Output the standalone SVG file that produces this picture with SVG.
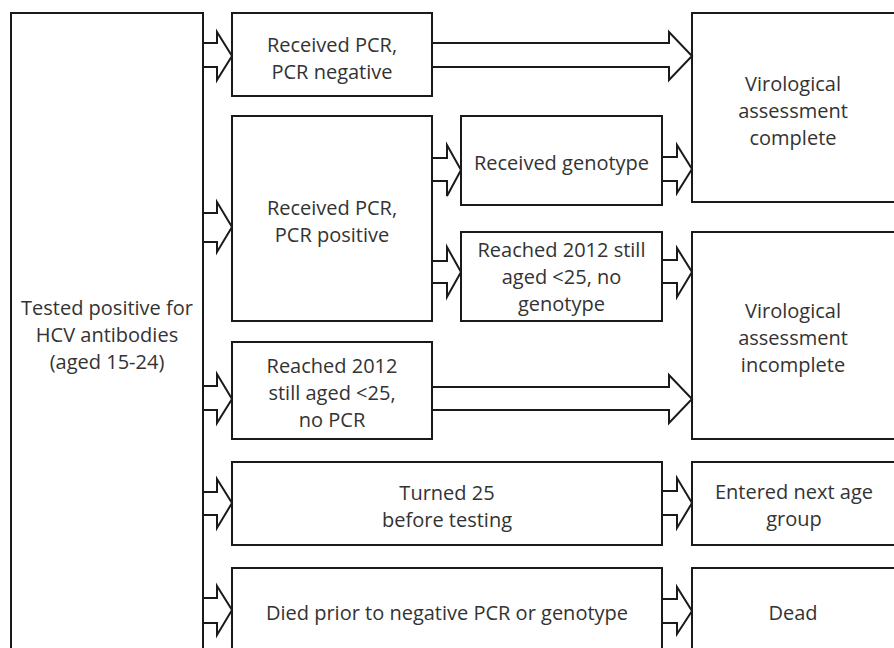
<svg xmlns="http://www.w3.org/2000/svg" width="894" height="648" viewBox="0 0 894 648">
<style>
.box{fill:#fff;stroke:#1a1a1a;stroke-width:2}
.arr{fill:#fff;stroke:#1a1a1a;stroke-width:2;stroke-linejoin:miter}
text{font-family:"Open Sans","Liberation Sans",sans-serif;font-size:20px;fill:#333;text-anchor:middle}
</style>
<rect width="894" height="648" fill="#fff"/>
<g id="n-tested">
<rect class="box" x="11" y="13" width="192" height="660"/>
<text x="107" y="315">Tested positive for</text>
<text x="107" y="342">HCV antibodies</text>
<text x="107" y="369">(aged 15-24)</text>
</g>
<g id="n-pcrneg">
<rect class="box" x="232" y="13" width="200" height="83"/>
<text x="332" y="52">Received PCR,</text>
<text x="332" y="79">PCR negative</text>
</g>
<g id="n-pcrpos">
<rect class="box" x="232" y="116" width="200" height="205"/>
<text x="332" y="215">Received PCR,</text>
<text x="332" y="242">PCR positive</text>
</g>
<g id="n-genotype">
<rect class="box" x="461" y="116" width="201" height="89"/>
<text x="561.5" y="170">Received genotype</text>
</g>
<g id="n-nogenotype">
<rect class="box" x="461" y="232" width="201" height="89"/>
<text x="561.5" y="257">Reached 2012 still</text>
<text x="561.5" y="284">aged &lt;25, no</text>
<text x="561.5" y="311">genotype</text>
</g>
<g id="n-complete">
<rect class="box" x="692" y="13" width="220" height="189"/>
<text x="793" y="91">Virological</text>
<text x="793" y="118">assessment</text>
<text x="793" y="145">complete</text>
</g>
<g id="n-incomplete">
<rect class="box" x="692" y="232" width="220" height="207"/>
<text x="793" y="318">Virological</text>
<text x="793" y="345">assessment</text>
<text x="793" y="372">incomplete</text>
</g>
<g id="n-nopcr">
<rect class="box" x="232" y="342" width="200" height="97"/>
<text x="332" y="373">Reached 2012</text>
<text x="332" y="400">still aged &lt;25,</text>
<text x="332" y="427">no PCR</text>
</g>
<g id="n-turned">
<rect class="box" x="232" y="462" width="430" height="83"/>
<text x="447" y="500">Turned 25</text>
<text x="447" y="527">before testing</text>
</g>
<g id="n-entered">
<rect class="box" x="692" y="462" width="220" height="83"/>
<text x="794" y="499">Entered next age</text>
<text x="794" y="526">group</text>
</g>
<g id="n-died">
<rect class="box" x="232" y="568" width="430" height="105"/>
<text x="447" y="620">Died prior to negative PCR or genotype</text>
</g>
<g id="n-dead">
<rect class="box" x="692" y="568" width="220" height="105"/>
<text x="793" y="620">Dead</text>
</g>
<g id="connectors">
<path class="arr" d="M203,43H217V32L232,56L217,80V67H203Z"/>
<path class="arr" d="M203,213H217V202L232,227L217,252V242H203Z"/>
<path class="arr" d="M203,386H217V374L232,399L217,423V410H203Z"/>
<path class="arr" d="M203,492H217V479L232,503L217,528V515H203Z"/>
<path class="arr" d="M203,598H217V586L232,610L217,635V623H203Z"/>
<path class="arr" d="M432,43H669V32L692,56L669,80V67H432Z"/>
<path class="arr" d="M432,387H669V375L692,399L669,423V410H432Z"/>
<path class="arr" d="M432,158H447V145L461,170L447,196V181H432Z"/>
<path class="arr" d="M432,261H447V247L461,272L447,297V283H432Z"/>
<path class="arr" d="M662,157H677V145L692,169L677,193V181H662Z"/>
<path class="arr" d="M662,260H677V248L692,272L677,297V283H662Z"/>
<path class="arr" d="M662,491H677V478L692,503L677,528V515H662Z"/>
<path class="arr" d="M662,599H677V587L692,611L677,634V623H662Z"/>
</g>
</svg>
